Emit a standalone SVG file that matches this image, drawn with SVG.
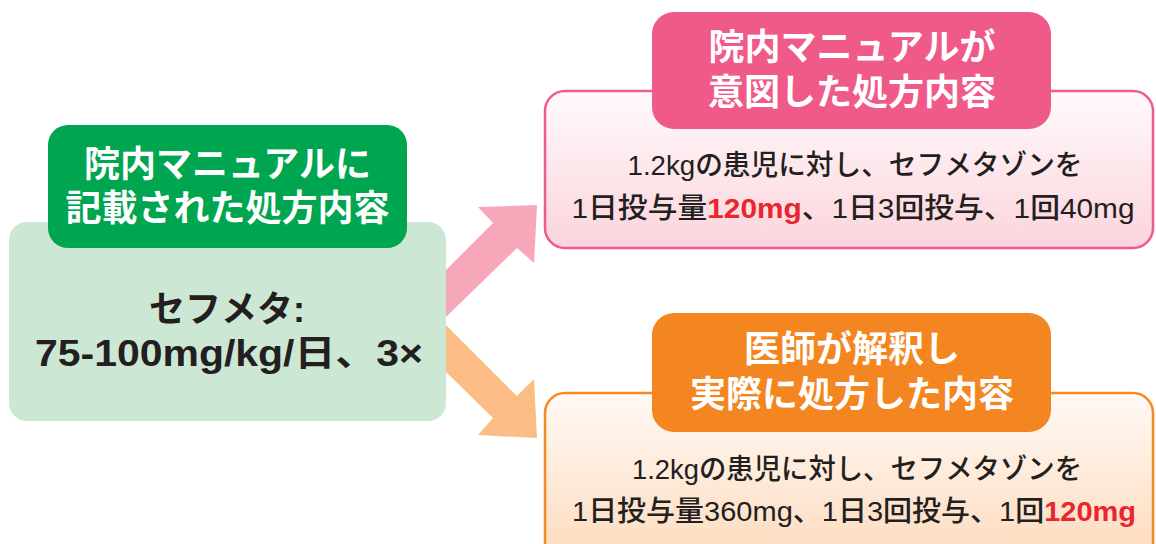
<svg xmlns="http://www.w3.org/2000/svg" width="1156" height="544" viewBox="0 0 1156 544">
<defs>
<linearGradient id="gPink" x1="0" y1="0" x2="0" y2="1">
<stop offset="0" stop-color="#fffafb"/>
<stop offset="1" stop-color="#fbd4dc"/>
</linearGradient>
<linearGradient id="gOrange" x1="0" y1="0" x2="0" y2="1">
<stop offset="0" stop-color="#fffaf5"/>
<stop offset="1" stop-color="#fdd9bb"/>
</linearGradient>
<style>
.hdr{font-family:"Liberation Sans","Noto Sans CJK JP",sans-serif;font-weight:700;font-size:36px;fill:#ffffff;text-anchor:middle}
.main{font-family:"Liberation Sans","Noto Sans CJK JP",sans-serif;font-weight:700;font-size:36px;fill:#231f20;text-anchor:middle}
.body{font-family:"Liberation Sans","Noto Sans CJK JP",sans-serif;font-weight:500;font-size:28px;fill:#231f20;text-anchor:middle}
.red{fill:#e8262d;font-weight:700}
</style>
</defs>
<rect width="1156" height="544" fill="#ffffff"/>
<g id="connectors">
<polygon id="arrow-intended" fill="#f6a8ba" points="420,296 493,223 478,207 537,205 534,263 517,248 446,317 420,343"/>
<polygon id="arrow-actual" fill="#fbbd85" points="420,299 446,325 517,396 534,379 537,438 478,435 493,418 446,372 420,346"/>
</g>
<g id="node-manual">
<rect x="9" y="222" width="437" height="199" rx="18" fill="#cde7d5"/>
<rect x="48" y="125" width="359" height="123" rx="20" fill="#00a550"/>
<text class="hdr"><tspan x="227.5" y="177">院内マニュアルに</tspan><tspan x="227.5" y="221">記載された処方内容</tspan></text>
<text class="main"><tspan x="227" y="322">セフメタ:</tspan><tspan x="229" y="366" textLength="388" lengthAdjust="spacingAndGlyphs">75-100mg/kg/日、3×</tspan></text>
</g>
<g id="node-intended">
<rect x="545" y="91" width="608" height="157" rx="20" fill="url(#gPink)" stroke="#ee5b8c" stroke-width="2.5"/>
<rect x="652" y="12" width="399" height="117" rx="22" fill="#ef5a89"/>
<text class="hdr"><tspan x="852" y="60">院内マニュアルが</tspan><tspan x="852" y="105">意図した処方内容</tspan></text>
<text class="body" x="855" y="175" textLength="455" lengthAdjust="spacingAndGlyphs">1.2kgの患児に対し、セフメタゾンを</text>
<text class="body" x="853" y="218" textLength="563" lengthAdjust="spacingAndGlyphs">1日投与量<tspan class="red">120mg</tspan>、1日3回投与、1回40mg</text>
</g>
<g id="node-actual">
<rect x="545" y="393" width="608" height="175" rx="20" fill="url(#gOrange)" stroke="#f58a22" stroke-width="2.5"/>
<rect x="652" y="313" width="399" height="119" rx="22" fill="#f48622"/>
<text class="hdr"><tspan x="852" y="362">医師が解釈し</tspan><tspan x="852" y="407">実際に処方した内容</tspan></text>
<text class="body" x="857" y="479" textLength="450" lengthAdjust="spacingAndGlyphs">1.2kgの患児に対し、セフメタゾンを</text>
<text class="body" x="854" y="521" textLength="564" lengthAdjust="spacingAndGlyphs">1日投与量360mg、1日3回投与、1回<tspan class="red">120mg</tspan></text>
</g>
</svg>
